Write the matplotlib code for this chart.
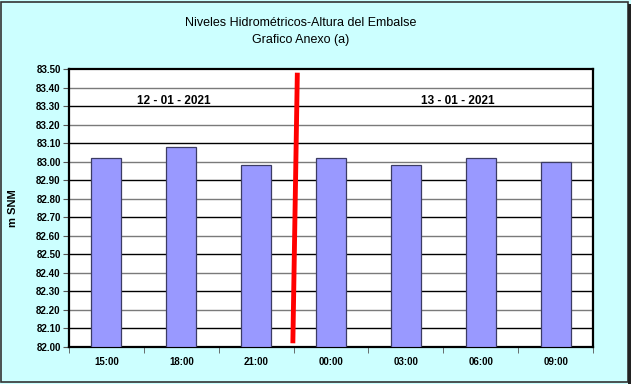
import numpy as np
import matplotlib.pyplot as plt
from matplotlib.patches import Rectangle

plt.rcParams['font.family'] = ['Liberation Sans', 'DejaVu Sans']

# Datos
horas = ['15:00', '18:00', '21:00', '00:00', '03:00', '06:00', '09:00']
niveles = [83.02, 83.08, 82.98, 83.02, 82.98, 83.02, 83.00]
fechas = ['12 - 01 - 2021', '13 - 01 - 2021']
fecha_x = [0.9, 4.7]
corte_x = [2.55, 2.49]   # linea roja (arriba, abajo)
corte_y = [83.48, 82.02]

fig = plt.figure(figsize=(6.31, 3.84), dpi=100)
fig.patch.set_facecolor('#CCFFFF')
ax = fig.add_axes([0.1094, 0.0964, 0.8304, 0.7239])
ax.set_facecolor('white')

x = np.arange(len(horas))
ymin = 82.0
ax.bar(x, np.array(niveles) - ymin, bottom=ymin, width=0.4,
       color='#9999FF', edgecolor='#3C3C64', linewidth=0.9, zorder=3)

# lineas de grilla alternadas
ticks = np.round(np.arange(82.0, 83.51, 0.1), 2)
for i, t in enumerate(ticks[1:-1]):
    c = 'black' if i % 2 == 0 else '#7a7a7a'
    ax.axhline(t, color=c, lw=1.0, zorder=1)

ax.plot(corte_x, corte_y, color='#FF0000', lw=3.5, zorder=4,
        solid_capstyle='butt')

for fx, f in zip(fecha_x, fechas):
    ax.text(fx, 83.33, f, ha='center', va='center', fontsize=8.5,
            fontweight='bold', zorder=5)

ax.set_xlim(-0.5, len(horas) - 0.5)
ax.set_ylim(82.0, 83.5)
ax.set_yticks(ticks)
ax.set_yticklabels(['%.2f' % t for t in ticks], fontsize=7, fontweight='bold')
ax.set_xticks(x)
ax.set_xticklabels(horas, fontsize=7, fontweight='bold')
ax.set_xticks(np.arange(-0.5, len(horas), 1.0), minor=True)
ax.tick_params(axis='x', which='major', length=0, pad=7)
ax.tick_params(axis='x', which='minor', length=4, direction='out', color='#555555')
ax.tick_params(axis='y', length=4, direction='out', color='#555555', pad=2)
for s in ax.spines.values():
    s.set_linewidth(1.6)
    s.set_color('black')

ax.set_ylabel('m SNM', fontsize=8, fontweight='bold')
ax.yaxis.set_label_coords(-0.097, 0.5)

fig.text(0.476, 0.94, 'Niveles Hidrométricos-Altura del Embalse',
         ha='center', va='center', fontsize=9)
fig.text(0.476, 0.897, 'Grafico Anexo (a)', ha='center', va='center', fontsize=9)

# borde de la figura
fig.patches.append(Rectangle((0.002, 0.004), 0.993, 0.99, transform=fig.transFigure,
                             fill=False, edgecolor='#333333', lw=1.2))
fig.patches.append(Rectangle((0.995, 0.0), 0.005, 0.99, transform=fig.transFigure,
                             color='#222222', lw=0))

fig.savefig('out.png', dpi=100, facecolor=fig.get_facecolor())
